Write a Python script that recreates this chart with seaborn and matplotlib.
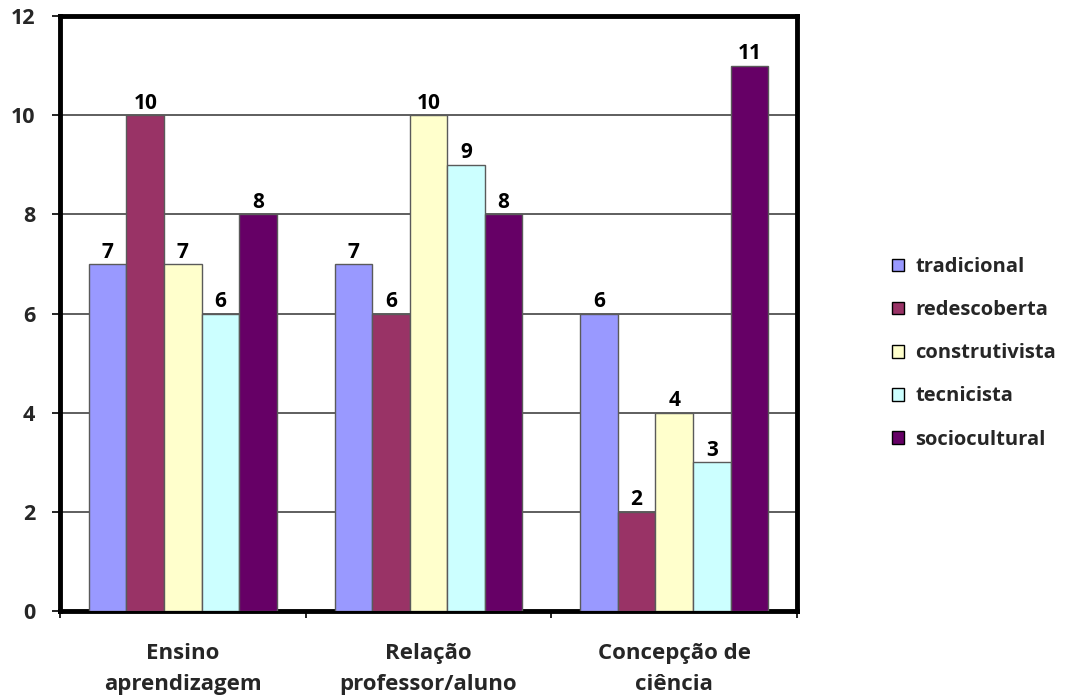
import matplotlib
matplotlib.use("Agg")
import matplotlib.pyplot as plt
import seaborn as sns
import pandas as pd
from matplotlib.patches import Patch

categories = ["Ensino\naprendizagem", "Relação\nprofessor/aluno", "Concepção de\nciência"]
series = ["tradicional", "redescoberta", "construtivista", "tecnicista", "sociocultural"]
tradicional = [7, 7, 6]
redescoberta = [10, 6, 2]
construtivista = [7, 10, 4]
tecnicista = [6, 9, 3]
sociocultural = [8, 8, 11]
colors = ["#9999FF", "#993366", "#FFFFCC", "#CCFFFF", "#660066"]
y_ticks = [0, 2, 4, 6, 8, 10, 12]

values = [tradicional, redescoberta, construtivista, tecnicista, sociocultural]
rows = []
for name, vals in zip(series, values):
    for cat, v in zip(categories, vals):
        rows.append({"categoria": cat, "abordagem": name, "valor": v})
df = pd.DataFrame(rows)

sns.set_style("white")
plt.rcParams["font.family"] = ["Open Sans", "DejaVu Sans"]

fig = plt.figure(figsize=(10.65, 6.95), dpi=100)
ax = fig.add_axes([60 / 1065, 1 - 611 / 695, 737 / 1065, 595 / 695])

sns.barplot(data=df, x="categoria", y="valor", hue="abordagem",
            hue_order=series, order=categories, palette=colors,
            saturation=1, width=0.765, edgecolor="#5a5a5a", linewidth=1.0,
            legend=False, ax=ax, zorder=3)

for container in ax.containers:
    ax.bar_label(container, fmt="%d", padding=1, fontsize=15,
                 fontweight="bold", color="black")

ax.set_xlim(-0.5, 2.5)
ax.set_ylim(0, 12)
ax.set_yticks(y_ticks)
ax.set_yticklabels([str(t) for t in y_ticks], fontsize=15.5, fontweight="bold")
ax.yaxis.grid(True, color="#333333", linewidth=1.1, zorder=0)
ax.xaxis.grid(False)
ax.set_axisbelow(True)

# category boundaries get the tick marks, centres carry the labels
ax.set_xticks([-0.5, 0.5, 1.5, 2.5])
ax.set_xticklabels([])
ax.set_xticks([0, 1, 2], minor=True)
ax.set_xticklabels(categories, minor=True, fontsize=16, fontweight="bold",
                   linespacing=1.6)
ax.tick_params(axis="x", which="major", direction="out", length=5, width=1.2,
               color="black", bottom=True)
ax.tick_params(axis="x", which="minor", length=0, pad=23)
ax.tick_params(axis="y", direction="out", length=6, width=1.2, color="black",
               left=True, pad=12)

for side in ["top", "bottom", "left", "right"]:
    ax.spines[side].set_visible(True)
    ax.spines[side].set_color("black")
    ax.spines[side].set_linewidth(3.5)

ax.set_xlabel("")
ax.set_ylabel("")

handles = [Patch(facecolor=c, edgecolor="black", linewidth=1.0) for c in colors]
fig.legend(handles, series, loc="upper left", bbox_to_anchor=(892 / 1065, 1 - 257 / 695),
           frameon=False, prop={"weight": "bold", "size": 14.5},
           handlelength=0.6, handleheight=0.6, handletextpad=0.55,
           labelspacing=1.15, borderpad=0, borderaxespad=0)

fig.savefig("out.png", dpi=100)
